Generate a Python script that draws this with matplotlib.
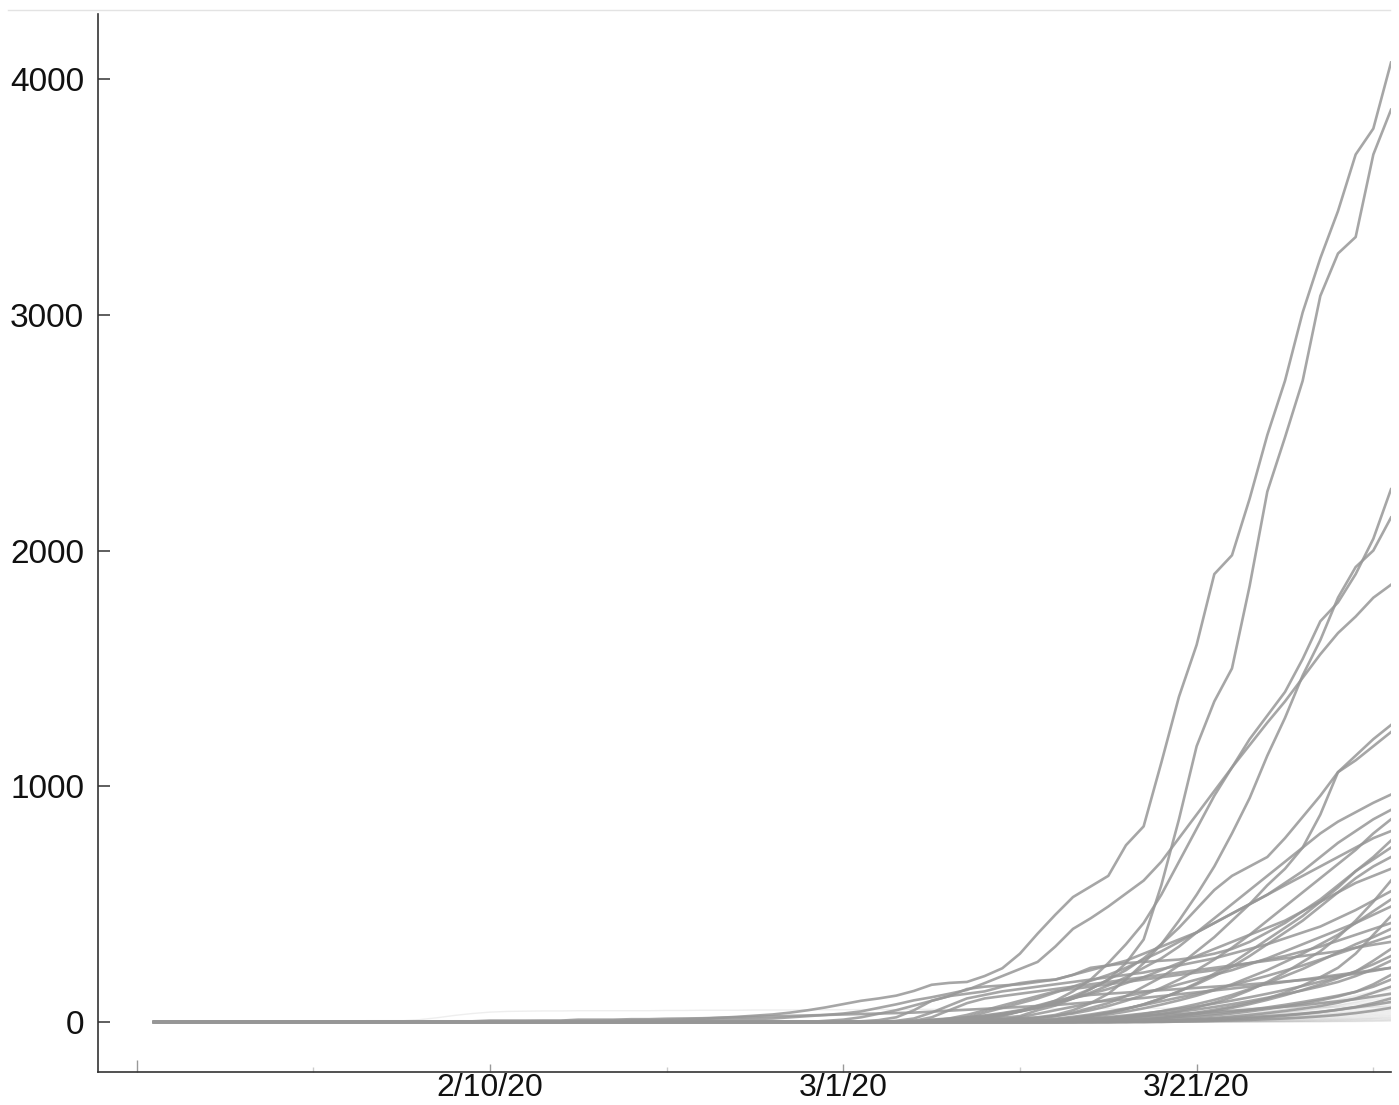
import matplotlib
matplotlib.use("Agg")
import matplotlib.pyplot as plt
import matplotlib.dates as mdates
from matplotlib.lines import Line2D
import pandas as pd
import numpy as np

plt.rcParams['font.family'] = ['Liberation Sans', 'DejaVu Sans']

# ---------------- data ----------------
dates = pd.date_range('2020-01-22', '2020-04-01', freq='D')   # 71 days
N = len(dates)

# Highlighted (dark) series, values listed up to 4/1/20; earlier days are 0
ser_a = [1,1,1,2,2,2,3,3,3,3, 3,4,4,5,5,6,7,8,9,11, 14,18,22,27,32,40,50,62,76,90,
         100,112,132,158,166,170,195,228,290,375, 455,530,575,620,750,830,1100,1380,1600,1900,
         1980,2220,2490,2720,3010,3240,3440,3680,3790,4070]
ser_b = [5,8,12,18,25, 50,70,100,140,180,250,350,580,
         860,1170,1360,1500,1850,2250,2480,2720,3080,3260,3330,3680,3870]
ser_c = [10,15,20,28,38,50,65,90,130,180,250,330,420,540,680,820,960,1080,1200,1300,
         1400,1540,1700,1780,1900,2050,2260]
ser_d = [5,8,12,16,20,30,50,80,120,180,250,330,430,540,660,800,950,1130,1290,1470,
         1620,1800,1930,2000,2140]
ser_e = [5,7,9,11,13,15,20,25,30,36,45,60,75,92,105,120,136,165,195,225,
         255,320,395,440,490,545,600,680,780,880,980,1080,1175,1270,1360,1460,1560,1650,1720,1800,1855]
ser_f = [10,14,20,30,45,60,80,110,140,180,220,270,330,400,480,560,620,660,700,780,
         870,960,1060,1130,1200,1260]
ser_g = [5,10,15,25,40,60,80,110,150,190,240,300,360,430,500,580,650,740,880,1060,1110,1170,1230]
ser_h = [3,5,8,12,18,25,35,48,62,80,100,125,155,190,230,270,320,380,440,500,
         560,620,680,740,800,850,890,930,965]
ser_i = [5,10,20,35,50,70,90,110,120,130,150,165,175,180,200,220,240,260,290,320,
         350,380,420,460,500,540,590,640,700,760,810,860,900]
ser_j = [5,8,12,18,26,36,50,68,90,115,145,180,220,265,315,370,430,490,550,610,670,730,800,860]
ser_k = [5,10,20,40,60,80,100,125,150,175,200,230,265,300,340,380,420,460,500,540,
         580,620,660,700,740,780,810]
ser_l = [5,10,18,28,40,55,75,100,130,165,205,250,300,350,400,450,510,570,640,700,770]
ser_m = [3,8,20,50,90,110,140,150,155,160,170,180,200,230,240,250,255,260,265,275,
         290,310,340,380,420,470,520,580,640,690,740]
ser_n = [3,6,10,16,25,38,55,75,100,130,160,195,235,280,330,380,430,490,550,610,660,700]
ser_o = [5,10,18,30,45,60,80,100,120,140,165,190,220,250,280,310,340,370,400,430,
         470,510,550,590,620,650]
ser_p = [3,6,10,16,24,34,46,62,82,105,135,170,210,255,300,360,430,510,600]
ser_q = [5,15,40,70,100,115,130,140,150,160,170,180,190,200,210,225,240,255,270,290,
         310,330,355,380,405,440,475,515,555]
ser_r = [4,8,14,22,32,44,58,74,92,112,135,160,190,220,255,290,330,370,420,470,520]
ser_s = [5,10,20,35,50,65,80,95,110,125,140,160,180,200,220,245,270,300,330,360,390,420,455,490]
ser_t = [3,6,10,15,22,30,40,52,66,82,100,125,155,190,230,290,370,450]
ser_u = [5,15,30,50,70,90,110,130,140,150,160,170,180,190,200,210,220,235,250,265,
         280,300,320,345,370,395,420]
ser_v = [3,6,10,16,24,34,46,60,76,94,115,140,165,195,225,260,295,330,360,395]
ser_w = [4,8,14,22,32,44,58,72,88,104,120,138,156,176,196,218,240,265,290,315,340,365]
ser_x = [5,20,50,80,100,110,120,130,140,150,160,170,180,190,200,210,220,230,240,250,
         260,270,280,290,300,315,328,340]
ser_y = [3,6,10,16,24,34,46,60,76,94,114,136,160,186,214,260,310]
ser_z = [3,6,10,15,21,28,36,45,55,66,78,91,105,120,136,153,171,190,215,245,280]
ser_aa = [4,8,13,19,26,34,43,53,64,76,89,103,118,134,151,170,195,225,260]
ser_ab = [5,12,25,45,70,90,105,115,120,125,130,135,140,145,150,155,160,166,172,178,
          185,195,205,217,230]
ser_ac = [3,6,10,15,21,28,36,45,55,66,78,92,108,128,160,200]
ser_ad = [3,5,8,12,17,22,28,35,43,52,62,73,85,98,112,128,150,180]
ser_ae = [3,5,8,12,17,23,30,38,47,57,68,82,100,124,150]
ser_af = [3,6,10,14,18,22,26,30,34,38,43,48,53,59,65,72,80,88,97,108,120]
ser_ag = [2,4,6,9,12,16,21,27,34,42,52,64,80,100]
ser_ah = [2,4,6,8,11,14,17,21,25,30,36,43,52,62,73,85]
ser_ai = [2,3,5,7,9,12,15,19,24,30,38,48,60]
ser_low = [1,1,1,1,1,1,1, 3,3,3,3,3,3,3, 6,6,6,6,6, 10,10,10,12,12,14,15,16,
           18,20,22,24,26, 28,30,32,34,36, 38,40,44,48,52, 56,60,64,68,72,
           78,84,90,96,102, 110,118,126,134,142, 150,160,170,180,190, 200,210,220,230]

# Background (light) series, values up to 4/1/20; earlier days are 0
bg_01 = [3,6,10,15,21,28,36,45,55,66,80,95,112,130,150]
bg_02 = [2,5,9,14,20,27,35,44,54,65,77,91,106,122,138]
bg_03 = [2,4,7,11,16,22,29,37,46,56,67,80,94,110,126]
bg_04 = [1,3,6,10,15,21,27,34,42,51,61,72,85,100,115]
bg_05 = [2,4,7,10,14,19,25,32,40,49,59,70,81,93,105]
bg_06 = [1,3,5,8,12,17,23,30,38,46,55,65,75,85,96]
bg_07 = [1,2,4,7,11,15,20,26,32,39,47,56,66,77,88]
bg_08 = [1,3,5,8,11,15,19,24,29,35,42,50,59,69,80]
bg_09 = [1,2,4,6,9,12,16,20,25,31,38,46,54,63,72]
bg_10 = [0,1,3,5,8,11,14,18,22,27,33,40,47,55,64]
bg_11 = [1,2,3,5,7,10,13,16,20,25,30,36,42,49,57]
bg_12 = [0,1,2,4,6,8,11,14,18,22,27,32,38,44,50]
bg_13 = [1,2,3,4,6,8,10,13,16,20,24,29,34,39,44]
bg_14 = [0,1,2,3,5,7,9,11,14,17,21,25,29,33,38]
bg_15 = [0,1,1,2,3,5,7,9,11,14,17,20,24,28,32]
bg_16 = [0,0,1,2,3,4,5,7,9,11,13,16,19,23,27]
bg_17 = [0,0,1,1,2,3,4,5,7,9,11,13,15,18,22]
bg_18 = [0,0,0,1,1,2,3,4,5,6,8,10,12,15,18]
bg_19 = [0,0,0,0,1,1,2,3,4,5,6,8,10,12,14]
bg_20 = [0,0,0,0,0,1,1,2,2,3,4,5,6,8,10]
bg_21 = [0,0,0,0,0,0,1,1,1,2,2,3,4,5,7]
bg_22 = [0,0,0,0,0,0,0,0,1,1,1,2,2,3,4]
bg_early = [0,0,0,0,1,2,5,10,18,28,36,42,45,46,47,47,48,48,48,48,
            48,49,49,50,50,50,51,51,51,52, 52,52,53,53,53,54,54,54,55,55,
            55,56,56,56,57,57,57,58,58,58, 59,59,60,60,61,61,62,62,63,63,64,64,65]

dark_series = [ser_a, ser_b, ser_c, ser_d, ser_e, ser_f, ser_g, ser_h, ser_i, ser_j,
               ser_k, ser_l, ser_m, ser_n, ser_o, ser_p, ser_q, ser_r, ser_s, ser_t,
               ser_u, ser_v, ser_w, ser_x, ser_y, ser_z, ser_aa, ser_ab, ser_ac, ser_ad,
               ser_ae, ser_af, ser_ag, ser_ah, ser_ai, ser_low]
light_series = [bg_01, bg_02, bg_03, bg_04, bg_05, bg_06, bg_07, bg_08, bg_09, bg_10,
                bg_11, bg_12, bg_13, bg_14, bg_15, bg_16, bg_17, bg_18, bg_19, bg_20,
                bg_21, bg_22, bg_early]

y_ticks = [0, 1000, 2000, 3000, 4000]
x_major = ['2020-01-21', '2020-02-10', '2020-03-01', '2020-03-21']
x_minor = ['2020-01-31', '2020-02-20', '2020-03-11', '2020-03-31']


def full(vals):
    vals = list(vals)[-N:]
    return np.array([0] * (N - len(vals)) + vals, dtype=float)

# ---------------- figure ----------------
W, H = 1399, 1105
fig = plt.figure(figsize=(W / 100, H / 100), dpi=100)
ax = fig.add_axes([98 / W, 1 - 1072 / H, (1391 - 98) / W, (1072 - 14) / H])

for s in light_series:
    ax.plot(dates, full(s), color='#8a8a8a', alpha=0.14, lw=1.0, solid_capstyle='butt')
for s in dark_series:
    ax.plot(dates, full(s), color='#979797', alpha=0.85, lw=1.9, solid_joinstyle='round')

d0 = mdates.date2num(dates[0])
ax.set_xlim(d0 - 3.18, d0 + 70)
ax.set_ylim(-212, 4276)

ax.set_yticks(y_ticks)
ax.set_yticklabels([str(v) for v in y_ticks])
maj = [mdates.date2num(pd.Timestamp(d)) for d in x_major]
mino = [mdates.date2num(pd.Timestamp(d)) for d in x_minor]
ax.set_xticks(maj)
lab = []
for i, d in enumerate(x_major):
    t = pd.Timestamp(d)
    lab.append('' if i == 0 else f"{t.month}/{t.day}/{t.strftime('%y')}")
ax.set_xticklabels(lab)
ax.set_xticks(mino, minor=True)

for sp in ['top', 'right']:
    ax.spines[sp].set_visible(False)
for sp in ['left', 'bottom']:
    ax.spines[sp].set_color('#333333')
    ax.spines[sp].set_linewidth(1.2)

ax.tick_params(axis='y', direction='in', length=8.6, width=1.1, color='#333333',
               labelsize=24, pad=10, labelcolor='#111111')
ax.tick_params(axis='x', which='major', direction='in', length=5.8, width=1.0,
               color='#999999', labelsize=23, pad=1, labelcolor='#111111')
ax.tick_params(axis='x', which='minor', direction='in', length=3.6, width=1.0,
               color='#cccccc')
t0 = ax.xaxis.get_major_ticks()[0]
t0.tick1line.set_markersize(8.6)
t0.tick1line.set_color('#333333')

fig.add_artist(Line2D([8 / W, 1390 / W], [1 - 10 / H, 1 - 10 / H],
                      color='#e3e3e3', lw=1.0))

fig.savefig('out.png', dpi=100, facecolor='white')
